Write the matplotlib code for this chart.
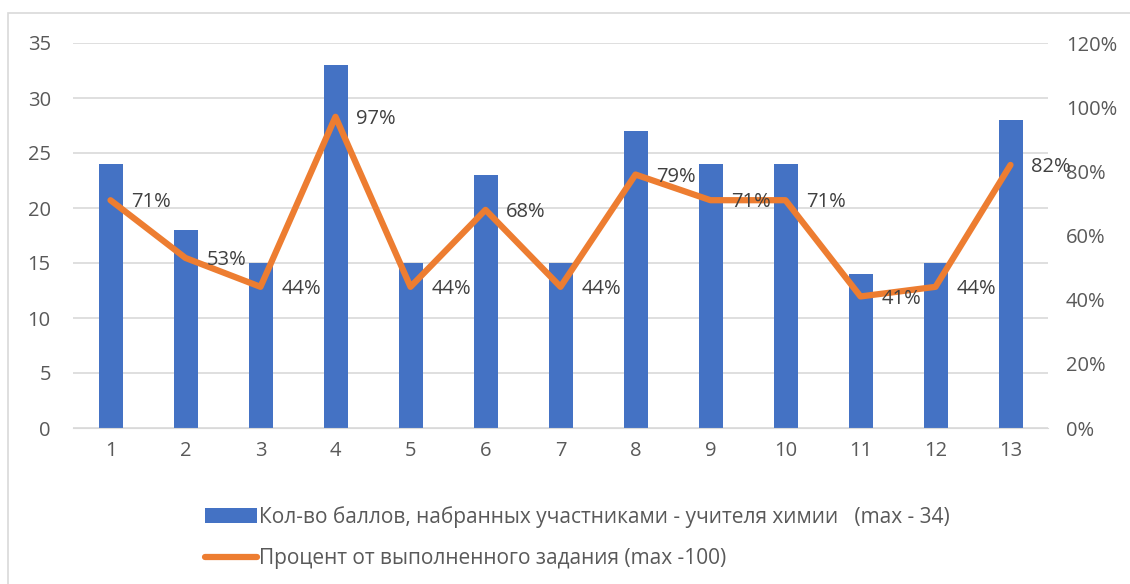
import numpy as np
import matplotlib.pyplot as plt
from matplotlib.patches import Rectangle
from matplotlib.ticker import PercentFormatter

# data
tasks = [1, 2, 3, 4, 5, 6, 7, 8, 9, 10, 11, 12, 13]
points = [24, 18, 15, 33, 15, 23, 15, 27, 24, 24, 14, 15, 28]
percent = [0.71, 0.53, 0.44, 0.97, 0.44, 0.68, 0.44, 0.79, 0.71, 0.71, 0.41, 0.44, 0.82]

bar_label = 'Кол-во баллов, набранных участниками - учителя химии   (max - 34)'
line_label = 'Процент от выполненного задания (max -100)'

plt.rcParams['font.family'] = ['Open Sans', 'DejaVu Sans']
txt = '#595959'

fig = plt.figure(figsize=(11.3, 5.84), dpi=100)
fig.patches.append(Rectangle((8 / 1130, -0.1), 1.2, 1 - 13 / 584 + 0.1,
                             transform=fig.transFigure, fill=False,
                             edgecolor='#D9D9D9', linewidth=1.2))

ax = fig.add_axes([73 / 1130, 1 - 428 / 584, 975 / 1130, 385 / 584])
ax2 = ax.twinx()

x = np.array(tasks)
bars = ax.bar(x, points, width=0.32, color='#4472C4', zorder=2, label=bar_label)
ax.set_xlim(0.5, 13.5)
ax.set_ylim(0, 35)
ax.set_yticks(range(0, 36, 5))
ax.set_xticks(x)
ax.grid(axis='y', color='#D9D9D9', linewidth=1.2, zorder=0)
ax.set_axisbelow(True)

line, = ax2.plot(x, percent, color='#ED7D31', linewidth=4.5,
                 solid_capstyle='round', solid_joinstyle='round', label=line_label)
ax2.set_ylim(0, 1.2)
ax2.set_yticks(np.arange(0, 1.21, 0.2))
ax2.yaxis.set_major_formatter(PercentFormatter(1.0, decimals=0))

for xi, p in zip(x, percent):
    ax2.annotate(f'{round(p * 100)}%', (xi, p), xytext=(15, -1.5),
                 textcoords='offset points', ha='left', va='center',
                 fontsize=14.5, color='#404040')

for a in (ax, ax2):
    for s in a.spines.values():
        s.set_visible(False)
    a.tick_params(length=0, labelsize=14.5, colors=txt)
ax.spines['bottom'].set_visible(True)
ax.spines['bottom'].set_color('#D9D9D9')
ax.tick_params(axis='y', pad=16)
ax.tick_params(axis='x', pad=9)
ax2.tick_params(axis='y', pad=13)

fig.legend(handles=[bars, line], loc='upper left', bbox_to_anchor=(186 / 1130, 1 - 487 / 584),
           frameon=False, fontsize=15, labelcolor=txt, handlelength=2.5,
           handletextpad=0.1, labelspacing=1.0)

fig.savefig('out.png', dpi=100)
